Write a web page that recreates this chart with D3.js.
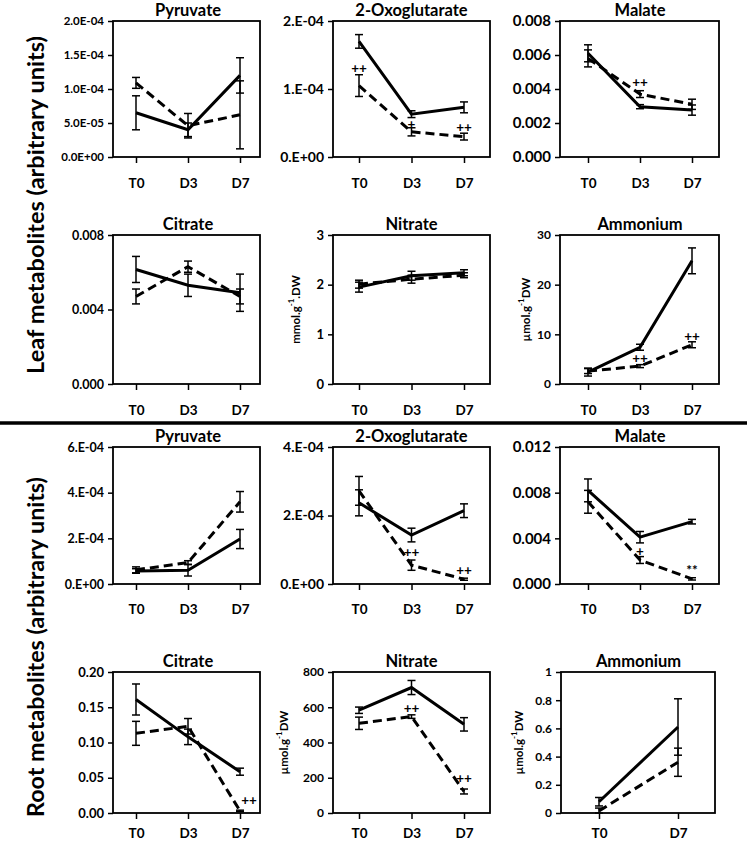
<!DOCTYPE html>
<html><head><meta charset="utf-8">
<script src="https://cdn.jsdelivr.net/npm/d3@7"></script>
<style>
body{margin:0;background:#fff;}
svg{display:block;}
text{font-family:Lato,'Open Sans',sans-serif;font-weight:700;fill:#000;}
</style>
</head><body>
<svg id="chart" width="747" height="845"></svg>
<script>
// ---------- DATA ----------
const timePoints = ["T0", "D3", "D7"];
const timePointsRootAmmonium = ["T0", "D7"];
const panelTitles = ["Pyruvate", "2-Oxoglutarate", "Malate", "Citrate", "Nitrate", "Ammonium",
                     "Pyruvate", "2-Oxoglutarate", "Malate", "Citrate", "Nitrate", "Ammonium"];
const groupLabels = ["Leaf metabolites (arbitrary units)", "Root metabolites (arbitrary units)"];

// solid line series (means and error)
const solidMeans = [
  [6.5e-5, 4.0e-5, 1.2e-4],
  [1.70e-4, 6.3e-5, 7.3e-5],
  [0.0061, 0.00296, 0.00276],
  [0.00615, 0.0053, 0.0049],
  [1.95, 2.18, 2.24],
  [2.4, 7.4, 24.8],
  [5.7e-5, 6.0e-5, 1.97e-4],
  [2.37e-4, 1.43e-4, 2.14e-4],
  [0.0082, 0.0041, 0.00546],
  [0.161, 0.108, 0.0586],
  [583, 712, 503],
  [0.08, 0.61]
];
const solidErrors = [
  [2.5e-5, 1.0e-5, 2.6e-5],
  [1.0e-5, 5e-6, 8e-6],
  [0.0005, 0.00012, 0.0003],
  [0.0007, 0.0006, 0.001],
  [0.1, 0.09, 0.06],
  [0.8, 0.6, 2.6],
  [1.0e-5, 2.5e-5, 4.2e-5],
  [3.8e-5, 2.0e-5, 2.0e-5],
  [0.001, 0.0005, 0.0002],
  [0.022, 0.011, 0.005],
  [18, 40, 38],
  [0.03, 0.2]
];
// dashed line series (means and error)
const dashedMeans = [
  [1.09e-4, 4.6e-5, 6.2e-5],
  [1.05e-4, 3.7e-5, 3.0e-5],
  [0.0058, 0.0037, 0.0031],
  [0.0047, 0.0063, 0.0047],
  [2.01, 2.11, 2.19],
  [2.6, 3.6, 7.9],
  [6.2e-5, 9.4e-5, 3.6e-4],
  [2.72e-4, 5.5e-5, 1.4e-5],
  [0.0072, 0.0021, 0.00045],
  [0.113, 0.123, 0.003],
  [509, 547, 122],
  [0.015, 0.36]
];
const dashedErrors = [
  [8e-6, 1.8e-5, 5.0e-5],
  [1.6e-5, 6e-6, 5e-6],
  [0.0005, 0.0002, 0.0003],
  [0.0004, 0.0003, 0.0004],
  [0.08, 0.08, 0.05],
  [0.5, 0.3, 0.6],
  [1.3e-5, 8e-6, 4.5e-5],
  [4.2e-5, 1.5e-5, 3e-6],
  [0.001, 0.0003, 0.0001],
  [0.017, 0.011, 0.001],
  [35, 10, 14],
  [0.02, 0.1]
];
const yTickValues = [
  [0, 5e-5, 1e-4, 1.5e-4, 2e-4],
  [0, 1e-4, 2e-4],
  [0, 0.002, 0.004, 0.006, 0.008],
  [0, 0.004, 0.008],
  [0, 1, 2, 3],
  [0, 10, 20, 30],
  [0, 2e-4, 4e-4, 6e-4],
  [0, 2e-4, 4e-4],
  [0, 0.004, 0.008, 0.012],
  [0, 0.05, 0.10, 0.15, 0.20],
  [0, 200, 400, 600, 800],
  [0, 0.2, 0.4, 0.6, 0.8, 1]
];
const yTickLabels = [
  ["0.0E+00", "5.0E-05", "1.0E-04", "1.5E-04", "2.0E-04"],
  ["0.E+00", "1.E-04", "2.E-04"],
  ["0.000", "0.002", "0.004", "0.006", "0.008"],
  ["0.000", "0.004", "0.008"],
  ["0", "1", "2", "3"],
  ["0", "10", "20", "30"],
  ["0.E+00", "2.E-04", "4.E-04", "6.E-04"],
  ["0.E+00", "2.E-04", "4.E-04"],
  ["0.000", "0.004", "0.008", "0.012"],
  ["0.00", "0.05", "0.10", "0.15", "0.20"],
  ["0", "200", "400", "600", "800"],
  ["0", "0.2", "0.4", "0.6", "0.8", "1"]
];
// unit labels: [panel, main, superscript, tail]
const unitLabels = [
  [4, "mmol.g", "-1", ".DW"],
  [5, "\u00b5mol.g", "-1", "DW"],
  [10, "\u00b5mol.g", "-1", "DW"],
  [11, "\u00b5mol.g", "-1", "DW"]
];
// significance marks: [panel, time point, value, text]
const sigMarks = [
  [1, "T0", 1.31e-4, "++"], [1, "D3", 4.8e-5, "+"], [1, "D7", 4.4e-5, "++"],
  [2, "D3", 0.0044, "++"],
  [5, "D3", 5.3, "++"], [5, "D7", 9.6, "++"],
  [7, "D3", 9.4e-5, "++"], [7, "D7", 4.1e-5, "++"],
  [8, "D3", 0.0029, "+"], [8, "D7", 0.00123, "**"],
  [9, "D7", 0.019, "++"],
  [10, "D3", 593, "++"], [10, "D7", 198, "++"]
];

// ---------- LAYOUT ----------
const colBox = [[113, 260], [333, 490], [560, 719]];
const colCats = [[136, 240], [359, 464], [588, 692]];
const rowBox = [[21, 157], [235, 384], [447, 584], [672, 813]];
const rowTickPad = [15, 15, 14, 9];
const tickFont = [11.5, 14, 15, 12.5, 13, 12, 12.5, 14, 15, 13, 12, 12];
const unitX = {4: 295, 5: 525, 10: 283, 11: 518};
const sigDx = {9: 9};

const svg = d3.select("#chart");
svg.append("rect").attr("width", 747).attr("height", 845).attr("fill", "#fff");

panelTitles.forEach((title, i) => {
  const c = i % 3, r = Math.floor(i / 3);
  let [x0, x1] = colBox[c];
  let [cx0, cx1] = colCats[c];
  if (i === 11) { x0 = 561; x1 = 715; cx0 = 599; cx1 = 678; }
  const [y0, y1] = rowBox[r];
  const cats = i === 11 ? timePointsRootAmmonium : timePoints;
  const x = d3.scalePoint().domain(cats).range([cx0, cx1]);
  const yt = yTickValues[i];
  const y = d3.scaleLinear().domain([0, yt[yt.length - 1]]).range([y1, y0]);
  const g = svg.append("g");

  // y axis
  const gy = g.append("g").attr("transform", `translate(${x0},0)`)
    .call(d3.axisLeft(y).tickValues(yt).tickFormat((d, k) => yTickLabels[i][k])
      .tickSize(5).tickPadding(4).tickSizeOuter(0));
  gy.select(".domain").remove();
  gy.selectAll("line").attr("stroke", "#000").attr("stroke-width", 1.5);
  gy.selectAll("text").attr("font-size", tickFont[i]);

  // x axis
  const gx = g.append("g").attr("transform", `translate(0,${y1})`)
    .call(d3.axisBottom(x).tickSize(6).tickPadding(rowTickPad[r]).tickSizeOuter(0));
  gx.select(".domain").remove();
  gx.selectAll("line").attr("stroke", "#000").attr("stroke-width", 1.5);
  gx.selectAll("text").attr("font-size", 13.5);

  // box
  g.append("rect").attr("x", x0).attr("y", y0).attr("width", x1 - x0).attr("height", y1 - y0)
    .attr("fill", "none").attr("stroke", "#000").attr("stroke-width", 1.8);

  // title
  g.append("text").attr("x", (cx0 + cx1) / 2).attr("y", y0 - 11)
    .attr("text-anchor", "middle").attr("dominant-baseline", "central")
    .attr("font-size", 16.5).text(title);

  const series = [
    {m: dashedMeans[i], e: dashedErrors[i], dash: "9,5"},
    {m: solidMeans[i], e: solidErrors[i], dash: null}
  ];
  const line = d3.line().x((d, k) => x(cats[k])).y(d => y(d));
  series.forEach(s => {
    g.append("path").datum(s.m).attr("d", line).attr("fill", "none")
      .attr("stroke", "#000").attr("stroke-width", 3)
      .attr("stroke-dasharray", s.dash);
    s.m.forEach((v, k) => {
      const cx = x(cats[k]), top = y(v + s.e[k]), bot = y(Math.max(0, v - s.e[k]));
      g.append("line").attr("x1", cx).attr("x2", cx).attr("y1", top).attr("y2", bot)
        .attr("stroke", "#000").attr("stroke-width", 1.5);
      [top, bot].forEach(yy => g.append("line").attr("x1", cx - 4).attr("x2", cx + 4)
        .attr("y1", yy).attr("y2", yy).attr("stroke", "#000").attr("stroke-width", 1.5));
    });
  });

  sigMarks.filter(s => s[0] === i).forEach(s => {
    g.append("text").attr("x", x(s[1]) + (s[1] === "D7" && sigDx[i] ? sigDx[i] : 0))
      .attr("y", y(s[2])).attr("text-anchor", "middle").attr("dominant-baseline", "central")
      .attr("font-size", 13.5).text(s[3]);
  });
});

unitLabels.forEach(u => {
  const r = Math.floor(u[0] / 3);
  const [y0, y1] = rowBox[r];
  const t = svg.append("text")
    .attr("transform", `translate(${unitX[u[0]]},${(y0 + y1) / 2}) rotate(-90)`)
    .attr("text-anchor", "middle").attr("dominant-baseline", "central").attr("font-size", 11.5);
  t.append("tspan").text(u[1]);
  t.append("tspan").attr("dy", -4).attr("font-size", 8).text(u[2]);
  t.append("tspan").attr("dy", 4).text(u[3]);
});

// big group labels
[[205, 338], [647, 340]].forEach((p, k) => {
  const t = svg.append("text")
    .attr("transform", `translate(35,${p[0]}) rotate(-90)`)
    .attr("text-anchor", "middle").attr("dominant-baseline", "central")
    .attr("font-size", 20).text(groupLabels[k]);
  const len = t.node().getComputedTextLength();
  t.attr("font-size", 20 * p[1] / len);
});

// separator
svg.append("line").attr("x1", 0).attr("x2", 747).attr("y1", 423).attr("y2", 423)
  .attr("stroke", "#000").attr("stroke-width", 3.5);
</script>
</body></html>
